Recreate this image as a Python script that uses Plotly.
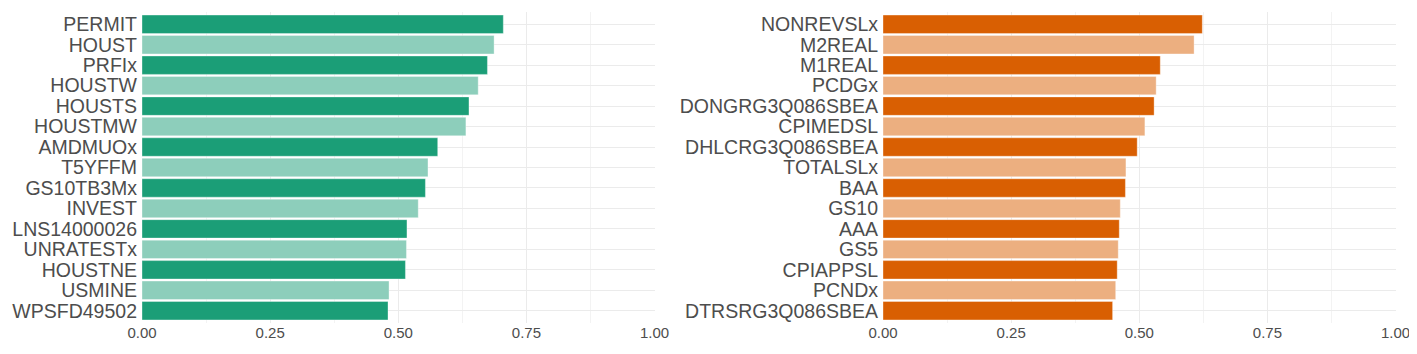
import plotly.graph_objects as go

left_labels = ["PERMIT", "HOUST", "PRFIx", "HOUSTW", "HOUSTS", "HOUSTMW", "AMDMUOx",
               "T5YFFM", "GS10TB3Mx", "INVEST", "LNS14000026", "UNRATESTx", "HOUSTNE",
               "USMINE", "WPSFD49502"]
left_values = [0.705, 0.687, 0.674, 0.656, 0.638, 0.632, 0.577, 0.558, 0.553, 0.539,
               0.517, 0.516, 0.514, 0.482, 0.480]

right_labels = ["NONREVSLx", "M2REAL", "M1REAL", "PCDGx", "DONGRG3Q086SBEA", "CPIMEDSL",
                "DHLCRG3Q086SBEA", "TOTALSLx", "BAA", "GS10", "AAA", "GS5", "CPIAPPSL",
                "PCNDx", "DTRSRG3Q086SBEA"]
right_values = [0.623, 0.607, 0.541, 0.533, 0.529, 0.511, 0.496, 0.474, 0.473, 0.463,
                0.461, 0.459, 0.457, 0.454, 0.448]

x_ticks = [0, 0.25, 0.5, 0.75, 1.0]
x_ticktext = ["0.00", "0.25", "0.50", "0.75", "1.00"]

green_dark, green_light = "#1b9e77", "#8dcebb"
orange_dark, orange_light = "#d95f02", "#ecaf80"

# the page body has an 8px margin: size the figure so it fits the 1417x354 window
OFF = 8
W = 1417 - OFF
H = 354 - OFF


def colors(n, dark, light):
    return [dark if i % 2 == 0 else light for i in range(n)]


fig = go.Figure()
fig.add_trace(go.Bar(
    y=left_labels, x=left_values, orientation="h",
    marker=dict(color=colors(len(left_values), green_dark, green_light),
                line=dict(color="rgba(255,255,255,0.35)", width=1)),
    xaxis="x", yaxis="y", showlegend=False))
fig.add_trace(go.Bar(
    y=right_labels, x=right_values, orientation="h",
    marker=dict(color=colors(len(right_values), orange_dark, orange_light),
                line=dict(color="rgba(255,255,255,0.35)", width=1)),
    xaxis="x2", yaxis="y2", showlegend=False))

font_family = "Liberation Sans, Arial, sans-serif"
xcommon = dict(range=[0, 1], tickmode="array", tickvals=x_ticks, ticktext=x_ticktext,
               showgrid=True, gridcolor="#ebebeb", gridwidth=1,
               minor=dict(tickmode="array", tickvals=[0.125, 0.375, 0.625, 0.875],
                          showgrid=True, gridcolor="#f3f3f3", gridwidth=1),
               zeroline=False, showline=False, ticks="", ticklabelstandoff=-1,
               automargin=False,
               tickfont=dict(size=15, color="#4d4d4d", family=font_family))
ycommon = dict(type="category", showgrid=True, gridcolor="#ebebeb", gridwidth=1,
               zeroline=False, showline=False, ticks="", ticklabelstandoff=4,
               range=[-0.6, 14.6], automargin=False,
               tickfont=dict(size=19.5, color="#4d4d4d", family=font_family))

top_px, bottom_px = 12.3, 323.3
fig.update_layout(
    width=W, height=H,
    margin=dict(l=0, r=0, t=top_px - OFF, b=354 - bottom_px),
    paper_bgcolor="white", plot_bgcolor="white",
    bargap=0.1,
    xaxis=dict(domain=[(142 - OFF) / W, (654.5 - OFF) / W], anchor="y", **xcommon),
    xaxis2=dict(domain=[(883 - OFF) / W, (1395.5 - OFF) / W], anchor="y2", **xcommon),
    yaxis=dict(domain=[0, 1], anchor="x", categoryorder="array",
               categoryarray=left_labels[::-1], tickmode="array",
               tickvals=left_labels, ticktext=left_labels, **ycommon),
    yaxis2=dict(domain=[0, 1], anchor="x2", categoryorder="array",
                categoryarray=right_labels[::-1], tickmode="array",
                tickvals=right_labels, ticktext=right_labels, **ycommon),
    font=dict(family=font_family),
)

fig.write_html("out.html")
